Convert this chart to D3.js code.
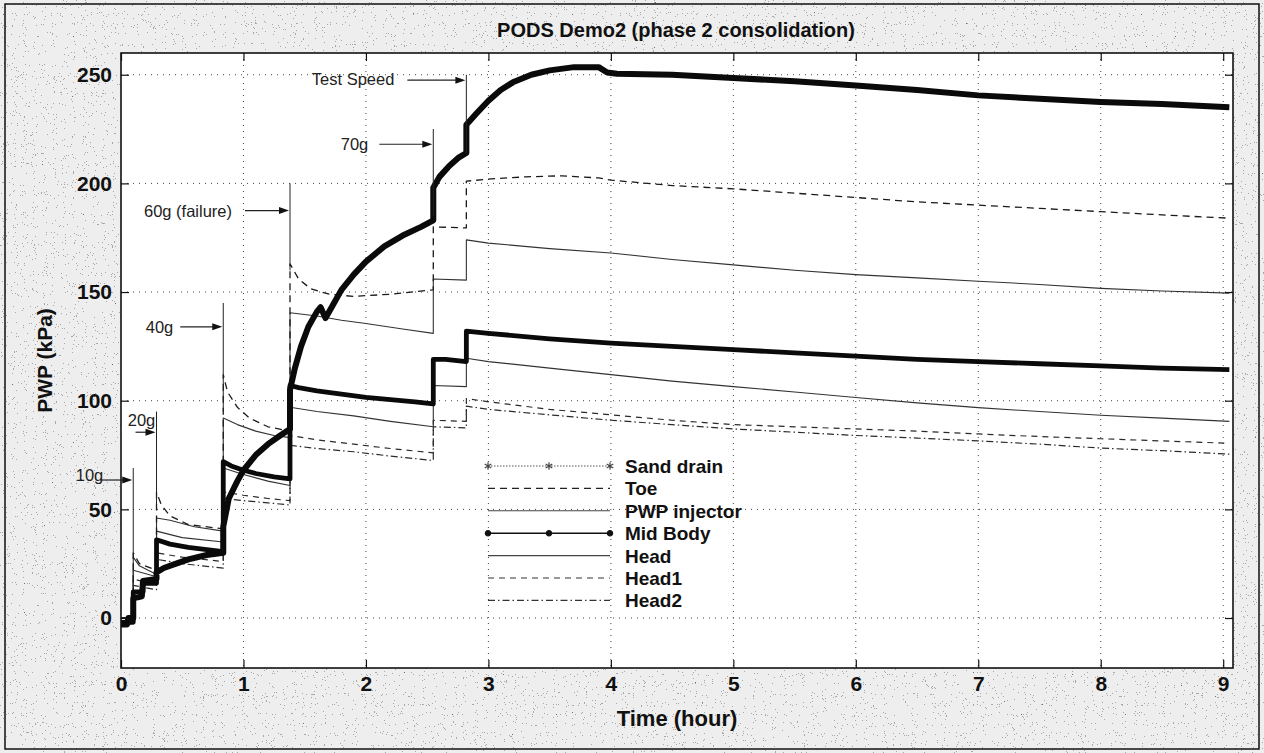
<!DOCTYPE html>
<html>
<head>
<meta charset="utf-8">
<script src="https://cdn.jsdelivr.net/npm/d3@7"></script>
<style>
  body { margin: 0; background: #fff; }
  svg text { font-family: "Liberation Sans", Arial, Helvetica, sans-serif; }
</style>
</head>
<body>
<svg id="chart" width="1264" height="753"></svg>
<script>
// Datos (tiempo en horas, PWP en kPa)
const xTicks = [0, 1, 2, 3, 4, 5, 6, 7, 8, 9];
const yTicks = [0, 50, 100, 150, 200, 250];

const sandDrain = [[0,-3],[0.05,-3],[0.06,0],[0.1,0],[0.1,9],[0.17,10],[0.18,17],[0.29,18],[0.29,21],[0.35,23],[0.45,25],[0.55,27],[0.7,29],[0.835,30],[0.835,42],[0.88,55],[0.95,63],[1.0,68],[1.1,75],[1.2,80],[1.3,84],[1.38,87],[1.38,105],[1.42,115],[1.47,125],[1.53,134],[1.6,141],[1.63,143],[1.67,138],[1.72,143],[1.8,151],[1.9,158],[2.0,164],[2.15,171],[2.3,176],[2.45,180],[2.55,183],[2.55,198],[2.6,203],[2.68,208],[2.76,212],[2.82,214],[2.82,227],[2.9,232],[3.0,238],[3.1,243],[3.2,246.5],[3.35,250],[3.5,252],[3.7,253.5],[3.9,253.5],[3.97,251],[4.05,250.5],[4.5,250],[5,248.5],[5.5,247],[6,245],[6.5,243],[7,240.5],[7.5,239],[8,237.5],[8.5,236.5],[9.05,235]];
const toe = [[0,0],[0.1,0],[0.1,30],[0.15,25],[0.29,22],[0.29,58],[0.33,52],[0.4,47],[0.55,43],[0.835,41],[0.835,112],[0.87,104],[0.95,97],[1.05,92],[1.2,88],[1.38,86],[1.38,163],[1.45,156],[1.55,151.5],[1.7,149],[1.9,148],[2.2,149],[2.55,151],[2.55,180],[2.82,179.5],[2.82,201],[3.0,202],[3.3,203],[3.6,203.5],[3.9,202.5],[4,201.5],[4.5,199],[5,197.5],[5.5,195.5],[6,193.5],[6.5,191.5],[7,190],[7.5,188.5],[8,187],[8.5,185.5],[9.05,184]];
const pwpInjector = [[0,0],[0.1,0],[0.1,28],[0.15,24],[0.29,20],[0.29,46],[0.4,45],[0.6,42],[0.835,40],[0.835,92],[0.95,89],[1.1,86],[1.25,84],[1.38,83],[1.38,140.5],[1.6,139],[1.8,137],[2.0,135.5],[2.3,133],[2.55,131],[2.55,156],[2.82,155.5],[2.82,174],[3,172.5],[3.5,170],[4,168],[4.5,165],[5,162.5],[5.5,160],[6,158],[6.5,156.5],[7,155],[7.5,153.5],[8,151.7],[8.5,150.5],[9.05,149.5]];
const midBody = [[0,-2],[0.1,-2],[0.1,12],[0.18,12],[0.18,16],[0.29,16],[0.29,36],[0.4,34],[0.55,32.5],[0.7,31.5],[0.835,30.5],[0.835,72],[0.9,70],[1.0,68],[1.1,66.5],[1.25,65],[1.38,64],[1.38,107],[1.45,106],[1.6,104.5],[1.8,103],[2.0,101.5],[2.2,100.5],[2.4,99.5],[2.55,98.5],[2.55,119],[2.65,119],[2.82,118],[2.82,132],[3.0,131],[3.5,128.5],[4,126.5],[4.5,125],[5,123.5],[5.5,122],[6,120.5],[6.5,119],[7,118],[7.5,117],[8,116],[8.5,115],[9.05,114.3]];
const head = [[0,0],[0.1,0],[0.1,22],[0.29,19],[0.29,40],[0.5,37],[0.835,35],[0.835,69],[1.0,66],[1.2,63],[1.38,61],[1.38,97],[1.6,95],[1.9,93],[2.2,90.5],[2.55,88],[2.55,107],[2.82,106.5],[2.82,119.5],[3,118],[3.5,115],[4,112],[4.5,109],[5,106.5],[5.5,104],[6,101.5],[6.5,99],[7,96.8],[7.5,95],[8,93.3],[8.5,92],[9.05,90.5]];
const head1 = [[0,0],[0.1,0],[0.1,18],[0.29,15],[0.29,30],[0.5,28],[0.835,26],[0.835,58],[1.0,56.5],[1.2,55],[1.38,54],[1.38,84],[1.6,82],[1.9,80],[2.2,78],[2.55,76],[2.55,91],[2.82,90.5],[2.82,101],[3,99.5],[3.5,96],[4,93.5],[4.5,91],[5,89],[5.5,88],[6,87],[6.5,86],[7,84.7],[7.5,83.5],[8,82.5],[8.5,81.5],[9.05,80.4]];
const head2 = [[0,0],[0.1,0],[0.1,15],[0.29,13],[0.29,27],[0.5,25],[0.835,23],[0.835,55],[1.0,54],[1.2,53],[1.38,52],[1.38,79.5],[1.6,78],[1.9,76.5],[2.2,74.5],[2.55,72.5],[2.55,88],[2.82,87.5],[2.82,97.5],[3,96],[3.5,93.5],[4,91],[4.5,89],[5,87],[5.5,85.5],[6,84],[6.5,82.8],[7,81.5],[7.5,80],[8,78.2],[8.5,77],[9.05,75.4]];

const seriesNames = ["Sand drain", "Toe", "PWP injector", "Mid Body", "Head", "Head1", "Head2"];
const seriesData = [sandDrain, toe, pwpInjector, midBody, head, head1, head2];

// Escalones de carga (anotaciones)
const stepLabels = ["10g", "20g", "40g", "60g (failure)", "70g", "Test Speed"];
const stepTimes = [0.1, 0.29, 0.835, 1.38, 2.55, 2.82];

const W = 1264, H = 753;
const svg = d3.select("#chart");

const x = d3.scaleLinear().domain([0, 9.08]).range([121, 1233]);
const y = d3.scaleLinear().domain([-23, 260]).range([668, 53]);

// Fondo gris moteado (papel escaneado)
const defs = svg.append("defs");
const f = defs.append("filter").attr("id", "speckle")
  .attr("x", 0).attr("y", 0).attr("width", "100%").attr("height", "100%");
f.append("feTurbulence").attr("type", "fractalNoise").attr("baseFrequency", 0.9)
  .attr("numOctaves", 2).attr("seed", 7);
f.append("feColorMatrix").attr("type", "matrix")
  .attr("values", "0 0 0 0 0  0 0 0 0 0  0 0 0 0 0  1 0 0 0 0");
f.append("feComponentTransfer").append("feFuncA").attr("type", "discrete")
  .attr("tableValues", "0 0 0 0 0 0.3 0.55");

svg.append("rect").attr("width", W).attr("height", H).attr("fill", "#eeeeee");
svg.append("rect").attr("width", W).attr("height", H).attr("fill", "#000").attr("filter", "url(#speckle)");
svg.append("rect").attr("x", 5).attr("y", 4).attr("width", W - 10).attr("height", H - 8)
  .attr("fill", "none").attr("stroke", "#111").attr("stroke-width", 1.5);

// Area del grafico
const [x0, x1] = x.range(), [y0, y1] = y.range();
svg.append("rect").attr("x", x0).attr("y", y1).attr("width", x1 - x0).attr("height", y0 - y1)
  .attr("fill", "#fff");

// Rejilla punteada
svg.append("g").selectAll("line").data(xTicks.filter(d => d > 0)).join("line")
  .attr("x1", d => x(d)).attr("x2", d => x(d)).attr("y1", y1).attr("y2", y0)
  .attr("stroke", "#444").attr("stroke-width", 1).attr("stroke-dasharray", "1,5");
svg.append("g").selectAll("line").data(yTicks).join("line")
  .attr("x1", x0).attr("x2", x1).attr("y1", d => y(d)).attr("y2", d => y(d))
  .attr("stroke", "#444").attr("stroke-width", 1).attr("stroke-dasharray", "1,5");

// Series
const estilos = [
  { w: 6, dash: null, color: "#0a0a0a" },
  { w: 1.3, dash: "7,5", color: "#1a1a1a" },
  { w: 1.1, dash: null, color: "#333" },
  { w: 4.8, dash: null, color: "#0a0a0a" },
  { w: 1.1, dash: null, color: "#333" },
  { w: 1.2, dash: "6,5", color: "#2a2a2a" },
  { w: 1.2, dash: "7,3,1.5,3", color: "#2a2a2a" }
];
const linea = d3.line().x(d => x(d[0])).y(d => y(d[1]));
const orden = [6, 5, 4, 2, 1, 3, 0];
svg.append("g").selectAll("path").data(orden).join("path")
  .attr("d", i => linea(seriesData[i]))
  .attr("fill", "none")
  .attr("stroke", i => estilos[i].color)
  .attr("stroke-width", i => estilos[i].w)
  .attr("stroke-dasharray", i => estilos[i].dash)
  .attr("stroke-linejoin", "round");

// Ejes con ticks hacia dentro en los cuatro lados
const fontTick = "21px";
const gx = svg.append("g").attr("transform", `translate(0,${y0})`)
  .call(d3.axisBottom(x).tickValues(xTicks).tickSize(-8).tickPadding(8).tickFormat(d3.format("d")));
const gxt = svg.append("g").attr("transform", `translate(0,${y1})`)
  .call(d3.axisTop(x).tickValues(xTicks).tickSize(-8).tickFormat(""));
const gy = svg.append("g").attr("transform", `translate(${x0},0)`)
  .call(d3.axisLeft(y).tickValues(yTicks).tickSize(-8).tickPadding(9).tickFormat(d3.format("d")));
const gyr = svg.append("g").attr("transform", `translate(${x1},0)`)
  .call(d3.axisRight(y).tickValues(yTicks).tickSize(-8).tickFormat(""));
[gx, gxt, gy, gyr].forEach(g => {
  g.select(".domain").remove();
  g.selectAll(".tick line").attr("stroke", "#111").attr("stroke-width", 1.2);
  g.selectAll("text").attr("font-size", fontTick).attr("font-weight", "bold").attr("fill", "#111");
});

svg.append("rect").attr("x", x0).attr("y", y1).attr("width", x1 - x0).attr("height", y0 - y1)
  .attr("fill", "none").attr("stroke", "#111").attr("stroke-width", 1.6);

// Anotaciones de escalones de carga
const anotLayout = [
  { top: 69, arrow: 63.5, bottom: 27, len: 33, tx: -30, ty: 1, anchor: "end" },
  { top: 95, arrow: 85.5, bottom: 52, len: 21, tx: -15, ty: -6, anchor: "middle" },
  { top: 145, arrow: 134, bottom: 95, len: 43, tx: -50, ty: 6, anchor: "end" },
  { top: 200, arrow: 187.5, bottom: 160, len: 45, tx: -58, ty: 6, anchor: "end" },
  { top: 225, arrow: 218, bottom: 185, len: 54, tx: -65, ty: 6, anchor: "end" },
  { top: 250, arrow: 247.5, bottom: 214, len: 59, tx: -72, ty: 5, anchor: "end" }
];
const gA = svg.append("g");
stepLabels.forEach((lab, i) => {
  const L = anotLayout[i], xs = x(stepTimes[i]), ya = y(L.arrow);
  gA.append("line").attr("x1", xs).attr("x2", xs).attr("y1", y(L.top)).attr("y2", y(L.bottom))
    .attr("stroke", "#222").attr("stroke-width", 1);
  gA.append("line").attr("x1", xs - L.len).attr("x2", xs - 9).attr("y1", ya).attr("y2", ya)
    .attr("stroke", "#222").attr("stroke-width", 1.2);
  gA.append("path").attr("d", `M${xs - 1},${ya} L${xs - 11},${ya - 3.5} L${xs - 11},${ya + 3.5} Z`)
    .attr("fill", "#111");
  gA.append("text").attr("x", xs + L.tx).attr("y", ya + L.ty).attr("text-anchor", L.anchor)
    .attr("font-size", "16.5px").attr("fill", "#222").text(lab);
});

// Leyenda (sin caja)
const legX0 = 488, legX1 = 610, legTextX = 625, legY0 = 466, legDy = 22.4;
const gL = svg.append("g");
const estilosLeyenda = [
  { w: 1.2, dash: "1.5,1.5", color: "#555", mark: "star" },
  { w: 1.2, dash: "7,5", color: "#222" },
  { w: 1.1, dash: null, color: "#444" },
  { w: 1.6, dash: null, color: "#111", mark: "dot" },
  { w: 1.1, dash: null, color: "#444" },
  { w: 1.2, dash: "6,5", color: "#333" },
  { w: 1.2, dash: "7,3,1.5,3", color: "#333" }
];
seriesNames.forEach((name, i) => {
  const ly = legY0 + i * legDy, s = estilosLeyenda[i];
  gL.append("line").attr("x1", legX0).attr("x2", legX1).attr("y1", ly).attr("y2", ly)
    .attr("stroke", s.color).attr("stroke-width", s.w).attr("stroke-dasharray", s.dash);
  if (s.mark) {
    const sym = s.mark === "star" ? d3.symbol(d3.symbolAsterisk, 40) : d3.symbol(d3.symbolCircle, 22);
    [legX0, (legX0 + legX1) / 2, legX1].forEach(mx => {
      gL.append("path").attr("d", sym()).attr("transform", `translate(${mx},${ly})`)
        .attr("fill", s.mark === "dot" ? "#111" : "none")
        .attr("stroke", s.mark === "dot" ? "#111" : "#444").attr("stroke-width", 1.2);
    });
  }
  gL.append("text").attr("x", legTextX).attr("y", ly + 7).attr("font-size", "19px")
    .attr("font-weight", "bold").attr("fill", "#111").text(name);
});

// Titulo y etiquetas
svg.append("text").attr("x", 676).attr("y", 37).attr("text-anchor", "middle")
  .attr("font-size", "20px").attr("font-weight", "bold").attr("fill", "#111")
  .text("PODS Demo2 (phase 2 consolidation)");
svg.append("text").attr("x", (x0 + x1) / 2).attr("y", 726).attr("text-anchor", "middle")
  .attr("font-size", "22px").attr("font-weight", "bold").attr("fill", "#111")
  .text("Time (hour)");
svg.append("text").attr("transform", `translate(52,${(y0 + y1) / 2}) rotate(-90)`)
  .attr("text-anchor", "middle").attr("font-size", "21px").attr("font-weight", "bold").attr("fill", "#111")
  .text("PWP (kPa)");
</script>
</body>
</html>
